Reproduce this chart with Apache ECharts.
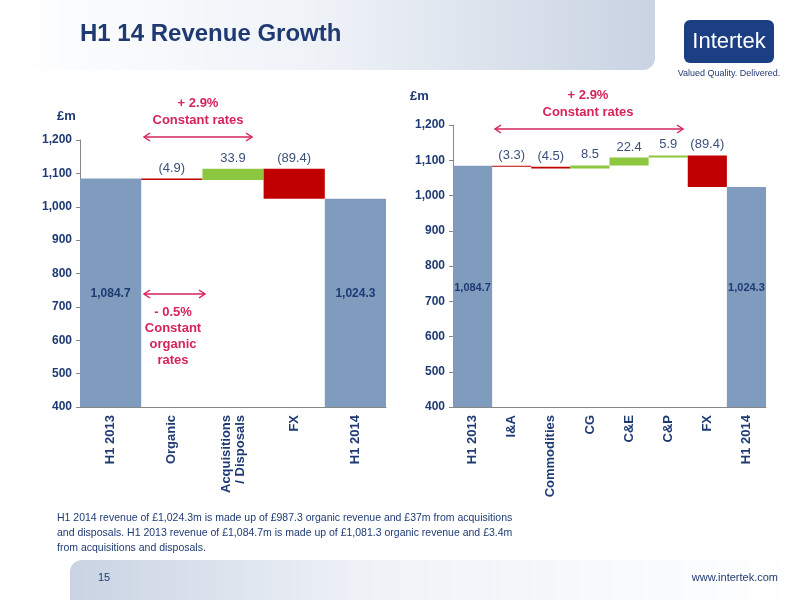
<!DOCTYPE html><html><head><meta charset="utf-8"><script src="https://cdn.jsdelivr.net/npm/echarts@6/dist/echarts.min.js"></script>
<style>body{margin:0}#c{width:800px;height:600px}</style></head><body><div id="c"></div><script>
const leftCats=['H1 2013','Organic','Acquisitions\n/ Disposals','FX','H1 2014'];
const leftBase=[0,1079.8,1079.8,1024.3,0];
const leftDelta=[1084.7,4.9,33.9,89.4,1024.3];
const leftLabels=['','(4.9)','33.9','(89.4)',''];
const leftInner=['1,084.7','','','','1,024.3'];
const rightCats=['H1 2013','I&A','Commodities','CG','C&E','C&P','FX','H1 2014'];
const rightBase=[0,1081.4,1076.9,1076.9,1085.4,1107.8,1024.3,0];
const rightDelta=[1084.7,3.3,4.5,8.5,22.4,5.9,89.4,1024.3];
const rightLabels=['','(3.3)','(4.5)','8.5','22.4','5.9','(89.4)',''];
const rightInner=['1,084.7','','','','','','','1,024.3'];
const leftKind=['t','d','u','d','t'];
const rightKind=['t','d','d','u','u','u','d','t'];
const COL={t:'#7f9cbf',d:'#c00000',u:'#8dc63f'};
const navy='#1f3a73',pink='#d6245a';
const chart=echarts.init(document.getElementById('c'));
function xa(idx,cats){return {gridIndex:idx,type:'category',data:cats,axisTick:{show:false},axisLine:{lineStyle:{color:'#888'}},
 axisLabel:{rotate:90,interval:0,color:navy,fontWeight:'bold',fontSize:13,fontFamily:'Liberation Sans',lineHeight:14}};}
function ya(idx){return {gridIndex:idx,type:'value',min:400,max:1200,interval:100,splitLine:{show:false},axisLine:{show:true,lineStyle:{color:'#888'}},
 axisTick:{show:true,length:4},axisLabel:{color:navy,fontWeight:'bold',fontSize:12,fontFamily:'Liberation Sans',formatter:v=>v.toLocaleString('en-US')}};}
function ser(idx,base,delta,kind,labels,inner,innerSize,dist){
 return [{type:'bar',xAxisIndex:idx,yAxisIndex:idx,stack:'s'+idx,data:base,itemStyle:{color:'transparent'},barCategoryGap:0,silent:true},
 {type:'bar',xAxisIndex:idx,yAxisIndex:idx,stack:'s'+idx,barCategoryGap:0,
  data:delta.map((v,i)=>({value:v,itemStyle:{color:COL[kind[i]]},
   label:kind[i]==='t'?{show:true,position:'insideBottom',distance:dist,formatter:inner[i],color:navy,fontWeight:'bold',fontSize:innerSize}:
   {show:true,position:'top',formatter:labels[i],color:'#3b4f7a',fontSize:13,distance:4}}))}];
}
const arrow=(x1,x2,y)=>({type:'line',shape:{x1,y1:y,x2,y2:y},style:{stroke:pink,lineWidth:1.5},z:10});
const head=(x,y,dir)=>({type:'polyline',shape:{points:[[x-6*dir,y-4],[x,y],[x-6*dir,y+4]]},style:{stroke:pink,lineWidth:1.5,fill:null},z:10});
chart.setOption({
 animation:false,
 grid:[{left:80,top:140,width:306,height:267},{left:453,top:125,width:313,height:282}],
 xAxis:[xa(0,leftCats),xa(1,rightCats)],yAxis:[ya(0),ya(1)],
 series:[...ser(0,leftBase,leftDelta,leftKind,leftLabels,leftInner,12,107),...ser(1,rightBase,rightDelta,rightKind,rightLabels,rightInner,11,114)],
 graphic:[
  {type:'rect',shape:{x:0,y:0,width:655,height:70,r:[0,0,12,0]},z:-10,style:{fill:new echarts.graphic.LinearGradient(0,0,1,0,[{offset:0,color:'#ffffff'},{offset:0.5,color:'#eef2f7'},{offset:1,color:'#c9d3e2'}])}},
  {type:'text',left:80,top:22,style:{text:'H1 14 Revenue Growth',fill:navy,font:'bold 24px Liberation Sans'}},
  {type:'rect',shape:{x:684,y:20,width:90,height:43,r:6},style:{fill:'#1b3f82'}},
  {type:'text',x:729,y:42,style:{text:'Intertek',fill:'#fff',font:'22px Liberation Sans',align:'center',verticalAlign:'middle'}},
  {type:'text',x:729,y:74,style:{text:'Valued Quality. Delivered.',fill:navy,font:'9px Liberation Sans',align:'center',verticalAlign:'middle'}},
  {type:'text',left:57,top:110,style:{text:'£m',fill:navy,font:'bold 13px Liberation Sans'}},
  {type:'text',left:410,top:90,style:{text:'£m',fill:navy,font:'bold 13px Liberation Sans'}},
  {type:'text',x:198,y:112,style:{text:'+ 2.9%\nConstant rates',fill:pink,font:'bold 13px Liberation Sans',align:'center',verticalAlign:'middle',lineHeight:17}},
  arrow(144,252,137),head(144,137,-1),head(252,137,1),
  {type:'text',x:588,y:104,style:{text:'+ 2.9%\nConstant rates',fill:pink,font:'bold 13px Liberation Sans',align:'center',verticalAlign:'middle',lineHeight:17}},
  arrow(495,683,129),head(495,129,-1),head(683,129,1),
  arrow(144,205,294),head(144,294,-1),head(205,294,1),
  {type:'text',x:173,y:336,style:{text:'- 0.5%\nConstant\norganic\nrates',fill:pink,font:'bold 13px Liberation Sans',align:'center',verticalAlign:'middle',lineHeight:16}},
  {type:'text',left:57,top:511,style:{text:'H1 2014 revenue of £1,024.3m is made up of £987.3 organic revenue and £37m from acquisitions\nand disposals. H1 2013 revenue of £1,084.7m is made up of £1,081.3 organic revenue and £3.4m\nfrom acquisitions and disposals.',fill:navy,font:'10.5px Liberation Sans',lineHeight:15}},
  {type:'rect',shape:{x:70,y:560,width:730,height:40,r:[12,0,0,0]},z:-10,style:{fill:new echarts.graphic.LinearGradient(0,0,1,0,[{offset:0,color:'#c9d3e2'},{offset:0.4,color:'#eef2f7'},{offset:1,color:'#ffffff'}])}},
  {type:'text',left:98,top:572,style:{text:'15',fill:navy,font:'11px Liberation Sans'}},
  {type:'text',right:22,top:572,style:{text:'www.intertek.com',fill:navy,font:'11px Liberation Sans'}}
 ]
});
</script></body></html>
